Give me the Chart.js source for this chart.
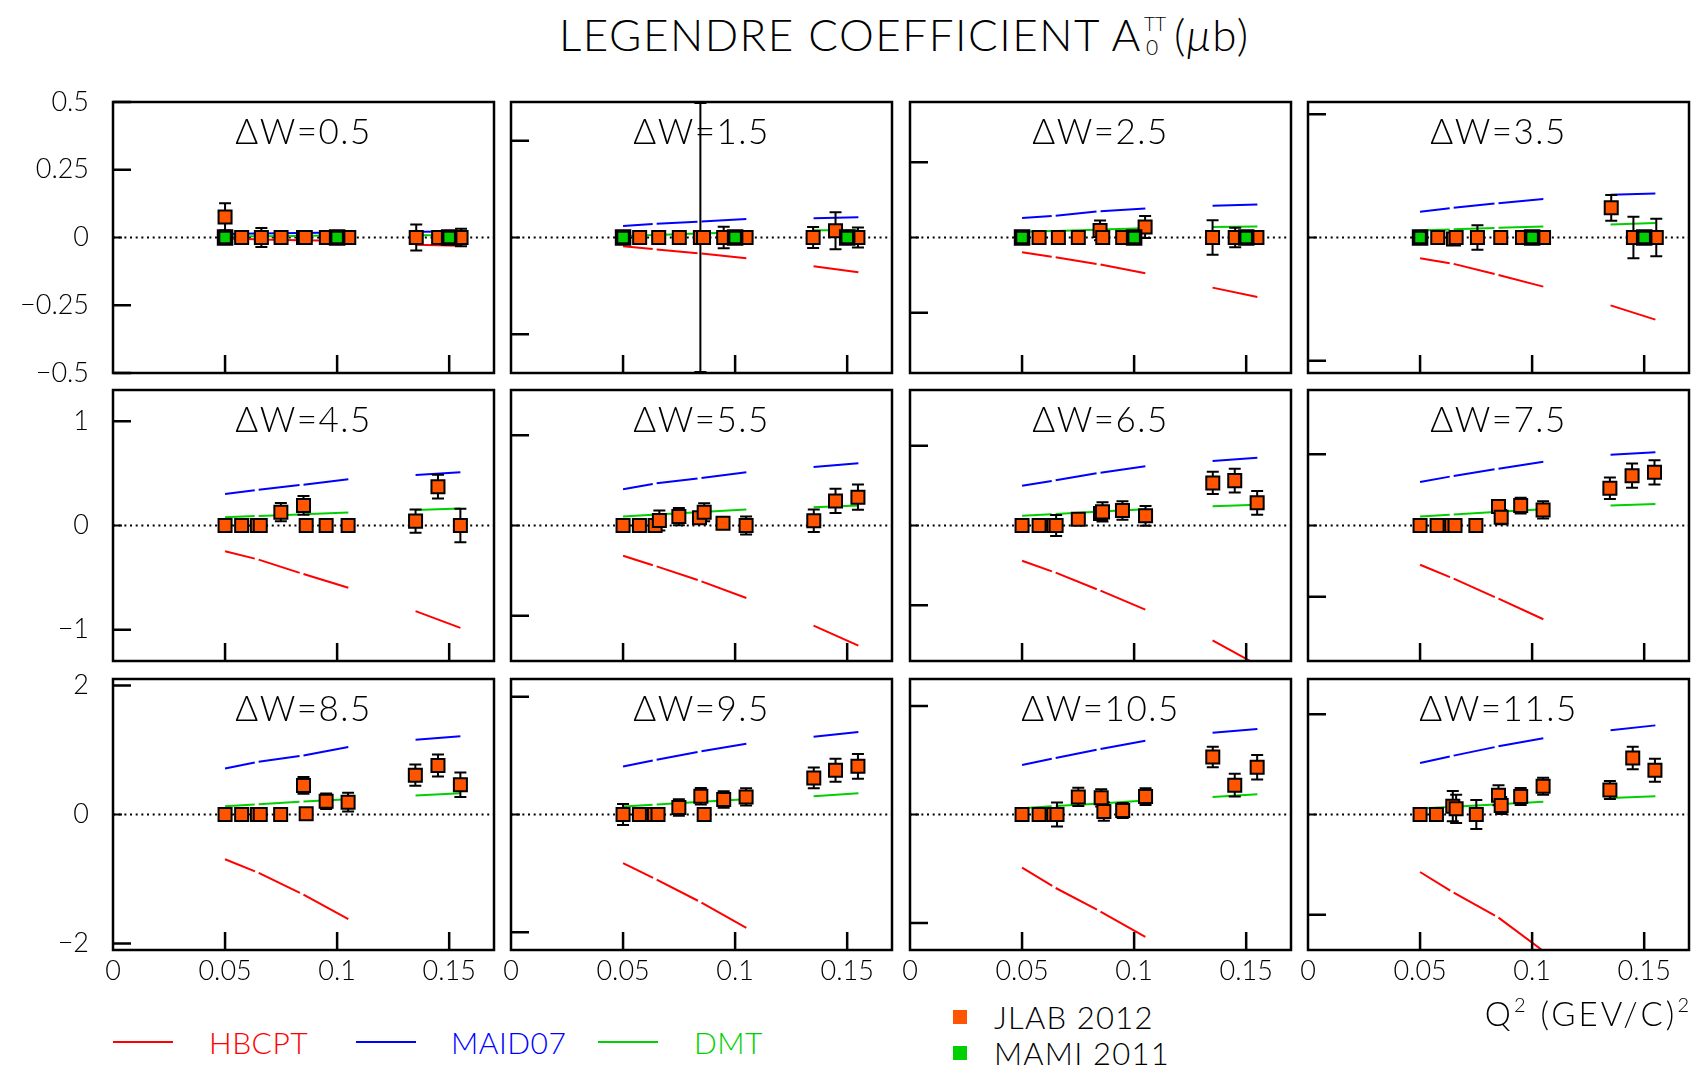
<!DOCTYPE html>
<html>
<head>
<meta charset="utf-8">
<script src="https://cdn.jsdelivr.net/npm/chart.js@4.4.1/dist/chart.umd.min.js"></script>
<style>
  html, body { margin: 0; padding: 0; background: #fff; }
  body { width: 1698px; height: 1068px; position: relative; overflow: hidden;
         font-family: Lato, "DejaVu Sans", sans-serif; font-weight: 300; color: #000; }
  canvas { position: absolute; }
  .txt { position: absolute; white-space: nowrap; line-height: 1; transform: translateY(-50%); }
  #title { position: absolute; left: 559px; top: 12px; font-size: 44px; line-height: 1; white-space: nowrap; letter-spacing: 1.5px; }
  #title .ss { display: inline-block; position: relative; width: 26px; height: 44px; vertical-align: top; }
  #title .sup { position: absolute; left: 2px; top: 2px; font-size: 19px; line-height: 1; letter-spacing: 0; }
  #title .sub { position: absolute; left: 4px; top: 24px; font-size: 21px; line-height: 1; }
  #title .unit { margin-left: 6px; }
  .panelLabel { position: absolute; white-space: nowrap; line-height: 1; font-size: 35px; letter-spacing: 1.5px;
                transform: translate(-50%, -50%); }
  .legLine { position: absolute; height: 2px; }
  .legBox { position: absolute; width: 14px; height: 14px; }
</style>
</head>
<body>
<div id="title">LEGENDRE COEFFICIENT A<span class="ss"><span class="sup">TT</span><span class="sub">0</span></span><span class="unit">(<i>μ</i>b)</span></div>
<script>
// ---------------- data ----------------
const panelLabels = ['ΔW=0.5', 'ΔW=1.5', 'ΔW=2.5', 'ΔW=3.5',
                     'ΔW=4.5', 'ΔW=5.5', 'ΔW=6.5', 'ΔW=7.5',
                     'ΔW=8.5', 'ΔW=9.5', 'ΔW=10.5', 'ΔW=11.5'];

// symmetric y range of each panel
const yLimits = [0.5, 0.7, 0.9, 1.1, 1.3, 1.5, 1.7, 1.9, 2.1, 2.3, 2.5, 2.7];
const yTickSets = [
  [-0.5, -0.25, 0, 0.25, 0.5], [-0.5, 0, 0.5], [-0.5, 0, 0.5], [-1, 0, 1],
  [-1, 0, 1], [-1, 0, 1], [-1, 0, 1], [-1, 0, 1],
  [-2, 0, 2], [-2, 0, 2], [-2, 0, 2], [-2, 0, 2]
];
const xTicks = [0, 0.05, 0.1, 0.15];
const q2Max = 0.17;

// model curves: two Q² branches
const modelQ2Low = [0.05, 0.065, 0.085, 0.105];
const modelQ2High = [0.135, 0.155];

const hbcptLow = [
  [-0.004, -0.007, -0.010, -0.013], [-0.045, -0.062, -0.083, -0.107],
  [-0.098, -0.131, -0.180, -0.237], [-0.168, -0.214, -0.304, -0.399],
  [-0.247, -0.327, -0.466, -0.597], [-0.335, -0.453, -0.618, -0.802],
  [-0.442, -0.592, -0.818, -1.055], [-0.550, -0.746, -1.026, -1.315],
  [-0.693, -0.905, -1.242, -1.620], [-0.824, -1.106, -1.495, -1.924],
  [-0.982, -1.356, -1.791, -2.258], [-1.146, -1.557, -2.054, -2.720]
];
const hbcptHigh = [
  [-0.027, -0.030], [-0.149, -0.180], [-0.333, -0.395], [-0.551, -0.667],
  [-0.822, -0.982], [-1.108, -1.329], [-1.440, -1.750], [null, null],
  [null, null], [null, null], [null, null], [null, null]
];
const maidLow = [
  [0.013, 0.015, 0.017, 0.019], [0.060, 0.071, 0.083, 0.095],
  [0.129, 0.144, 0.175, 0.193], [0.209, 0.241, 0.279, 0.312],
  [0.302, 0.343, 0.392, 0.443], [0.401, 0.467, 0.526, 0.589],
  [0.500, 0.567, 0.663, 0.743], [0.611, 0.695, 0.797, 0.895],
  [0.714, 0.817, 0.916, 1.045], [0.813, 0.931, 1.072, 1.202],
  [0.914, 1.043, 1.209, 1.362], [1.027, 1.173, 1.359, 1.518]
];
const maidHigh = [
  [0.021, 0.022], [0.100, 0.104], [0.211, 0.220], [0.347, 0.358],
  [0.485, 0.510], [0.648, 0.688], [0.809, 0.851], [0.993, 1.026],
  [1.159, 1.211], [1.320, 1.400], [1.509, 1.577], [1.677, 1.776]
];
const dmtLow = [
  [0.004, 0.005, 0.006, 0.007], [0.007, 0.013, 0.021, 0.029],
  [0.038, 0.044, 0.053, 0.062], [0.057, 0.066, 0.079, 0.090],
  [0.080, 0.092, 0.108, 0.125], [0.099, 0.122, 0.150, 0.177],
  [0.121, 0.143, 0.175, 0.204], [0.126, 0.155, 0.192, 0.228],
  [0.129, 0.160, 0.200, 0.238], [0.135, 0.170, 0.215, 0.260],
  [0.117, 0.155, 0.205, 0.258], [0.119, 0.155, 0.205, 0.252]
];
const dmtHigh = [
  [0.008, 0.008], [0.038, 0.038], [0.069, 0.073], [0.106, 0.117],
  [0.148, 0.164], [0.202, 0.221], [0.242, 0.259], [0.280, 0.303],
  [0.295, 0.331], [0.310, 0.361], [0.325, 0.374], [0.331, 0.364]
];

// JLAB 2012 points
const jlabQ2 = [
  [0.05, 0.0574, 0.0662, 0.0750, 0.0850, 0.0858, 0.0952, 0.1052, 0.1353, 0.1453, 0.1553],
  [0.05, 0.0574, 0.0659, 0.0751, 0.0845, 0.0859, 0.0949, 0.1049, 0.1348, 0.1448, 0.1548],
  [0.05, 0.0576, 0.0662, 0.0751, 0.0848, 0.0860, 0.0949, 0.1049, 0.1350, 0.1451, 0.1548],
  [0.05, 0.0579, 0.0649, 0.0661, 0.0756, 0.0860, 0.0957, 0.1051, 0.1353, 0.1452, 0.1554],
  [0.05, 0.0574, 0.0644, 0.0657, 0.0749, 0.0850, 0.0862, 0.0951, 0.1049, 0.1350, 0.1450, 0.1550],
  [0.05, 0.0573, 0.0643, 0.0662, 0.0749, 0.0841, 0.0862, 0.0946, 0.1049, 0.1351, 0.1448, 0.1548],
  [0.05, 0.0576, 0.0641, 0.0652, 0.0751, 0.0850, 0.0859, 0.0948, 0.1051, 0.1351, 0.1449, 0.1549],
  [0.05, 0.0576, 0.0641, 0.0656, 0.0749, 0.0850, 0.0862, 0.0949, 0.1049, 0.1347, 0.1446, 0.1546],
  [0.05, 0.0574, 0.0644, 0.0657, 0.0748, 0.0850, 0.0862, 0.0951, 0.1049, 0.1349, 0.1450, 0.1550],
  [0.05, 0.0573, 0.0640, 0.0656, 0.0749, 0.0847, 0.0862, 0.0949, 0.1049, 0.1351, 0.1448, 0.1548],
  [0.05, 0.0576, 0.0641, 0.0656, 0.0751, 0.0853, 0.0865, 0.0949, 0.1051, 0.1351, 0.1449, 0.1549],
  [0.05, 0.0573, 0.0646, 0.0661, 0.0751, 0.0850, 0.0862, 0.0949, 0.1049, 0.1347, 0.1449, 0.1548]
];
const jlabA0 = [
  [0.076, 0, 0, 0, 0, 0, 0, 0, 0, 0, 0],
  [0, 0, 0, 0, 0, 0, 0, 0, 0, 0.035, 0],
  [0, 0, 0, 0, 0.047, 0, 0, 0.069, 0, 0, 0],
  [0, 0, -0.012, 0, 0, 0, 0, 0, 0.241, 0, 0],
  [0, 0, 0, 0, 0.128, 0.193, 0, 0, 0, 0.042, 0.372, 0],
  [0, 0, 0, 0.055, 0.099, 0.085, 0.147, 0.026, 0, 0.052, 0.272, 0.313],
  [0, 0, 0, 0, 0.079, 0.150, 0.171, 0.188, 0.121, 0.534, 0.563, 0.284],
  [0, 0, 0, 0, 0, 0.266, 0.117, 0.280, 0.219, 0.522, 0.699, 0.746],
  [0, 0, 0, 0, 0, 0.450, 0.010, 0.207, 0.191, 0.610, 0.760, 0.460],
  [0, 0, 0, 0, 0.118, 0.310, 0, 0.254, 0.299, 0.621, 0.751, 0.818],
  [0, 0, 0, 0, 0.325, 0.307, 0.055, 0.074, 0.331, 1.061, 0.540, 0.871],
  [0, 0, 0.166, 0.113, 0, 0.384, 0.179, 0.358, 0.563, 0.490, 1.127, 0.881]
];
const jlabErr = [
  [0.05, 0, 0.035, 0, 0.012, 0, 0, 0, 0.048, 0.012, 0.032],
  [0, 0, 0, 0, 0.695, 0, 0.055, 0, 0.054, 0.096, 0.052],
  [0, 0, 0, 0, 0.066, 0, 0, 0.073, 0.115, 0.065, 0],
  [0, 0, 0, 0, 0.100, 0, 0, 0, 0.105, 0.168, 0.152],
  [0, 0, 0, 0, 0.087, 0.090, 0, 0, 0, 0.112, 0.114, 0.160],
  [0, 0, 0, 0.110, 0.095, 0.060, 0.100, 0.050, 0.100, 0.125, 0.135, 0.140],
  [0, 0, 0, 0.133, 0.040, 0.050, 0.120, 0.115, 0.125, 0.140, 0.150, 0.150],
  [0, 0, 0, 0, 0.020, 0.080, 0.100, 0.110, 0.120, 0.150, 0.170, 0.170],
  [0, 0, 0, 0, 0, 0.130, 0, 0.120, 0.145, 0.165, 0.170, 0.190],
  [0.180, 0, 0, 0, 0.140, 0.140, 0, 0.140, 0.145, 0.175, 0.195, 0.210],
  [0, 0, 0, 0.220, 0.170, 0.160, 0.170, 0.140, 0.155, 0.190, 0.210, 0.225],
  [0, 0, 0.300, 0.280, 0.290, 0.200, 0.170, 0.170, 0.170, 0.180, 0.225, 0.230]
];

// MAMI 2011 points (first four ΔW bins)
const mamiQ2 = [0.05, 0.1, 0.15];
const mamiA0 = [[0, 0, 0], [0, 0, 0], [0, 0, 0], [0, 0, 0]];

// ---------------- styling ----------------
const COL_HBCPT = '#ff0000';
const COL_MAID = '#0000ff';
const COL_DMT = '#00d000';
const COL_JLAB = '#ff5500';
const COL_MAMI = '#00d000';
const FONT = 'Lato, "DejaVu Sans", sans-serif';

const FRAME_L = [113, 511, 910, 1308];
const FRAME_T = [102, 390, 679];
const FW = 381, FH = 271, M = 46;
const TICK = 18, CAP = 6, GAP = 4;
const MARK_R = 9.2;

const fmt = v => (v < 0 ? '\u2212' + String(Math.abs(v)) : String(v));

// frame, inward ticks and dotted zero line of every panel
const panelFrame = {
  id: 'panelFrame',
  beforeDatasetsDraw(chart) {
    const { ctx, chartArea: a, scales: { y } } = chart;
    const py = y.getPixelForValue(0);
    ctx.save();
    ctx.strokeStyle = '#000';
    ctx.lineWidth = 2;
    ctx.setLineDash([2, 3.67]);
    ctx.beginPath();
    ctx.moveTo(a.left, py);
    ctx.lineTo(a.right, py);
    ctx.stroke();
    ctx.restore();
  },
  afterDraw(chart, args, opts) {
    const { ctx, chartArea: a, scales: { x, y } } = chart;
    ctx.save();
    ctx.strokeStyle = '#000';
    ctx.lineCap = 'butt';
    ctx.beginPath();
    ctx.lineWidth = 2.5;
    opts.yTicks.forEach(v => {
      if (v === 0) return;
      const py = y.getPixelForValue(v);
      ctx.moveTo(a.left, py);
      ctx.lineTo(a.left + TICK, py);
    });
    opts.xTicks.forEach(v => {
      if (v === 0) return;
      const px = x.getPixelForValue(v);
      ctx.moveTo(px, a.bottom);
      ctx.lineTo(px, a.bottom - TICK);
    });
    ctx.stroke();
    const pz = y.getPixelForValue(0);
    ctx.beginPath();
    ctx.lineWidth = 2;
    ctx.moveTo(a.left, pz);
    ctx.lineTo(a.left + 9, pz);
    ctx.stroke();
    ctx.lineWidth = 2.5;
    ctx.strokeRect(a.left, a.top, a.right - a.left, a.bottom - a.top);
    ctx.restore();
  }
};

// vertical error bars with caps, drawn just below their markers
const errorBars = {
  id: 'errorBars',
  beforeDatasetDraw(chart, args) {
    const ds = chart.data.datasets[args.index];
    if (!ds.errors) return;
    const { ctx, chartArea: a, scales: { x, y } } = chart;
    ctx.save();
    ctx.beginPath();
    ctx.rect(a.left, a.top - 1, a.right - a.left, a.bottom - a.top + 2);
    ctx.clip();
    ctx.strokeStyle = '#000';
    ctx.lineWidth = 2;
    ds.data.forEach((p, k) => {
      const e = ds.errors[k];
      if (!e) return;
      const px = x.getPixelForValue(p.x);
      const yTop = y.getPixelForValue(p.y + e);
      const yBot = y.getPixelForValue(p.y - e);
      ctx.beginPath();
      ctx.moveTo(px, yTop); ctx.lineTo(px, yBot);
      ctx.moveTo(px - CAP, yTop); ctx.lineTo(px + CAP, yTop);
      ctx.moveTo(px - CAP, yBot); ctx.lineTo(px + CAP, yBot);
      ctx.stroke();
    });
    ctx.restore();
  }
};

// model curves are drawn as joined pieces with a short break at each node
function modelDataset(xs, ys, color) {
  return {
    type: 'line',
    data: xs.map((q, k) => ({ x: q, y: ys[k] })),
    borderColor: color,
    borderWidth: 2,
    pointRadius: 0,
    pointHoverRadius: 0,
    fill: false,
    tension: 0,
    spanGaps: false,
    order: 3,
    segment: {
      borderDash: ctx => {
        if (ctx.p1DataIndex >= xs.length - 1) return undefined;
        const len = Math.hypot(ctx.p1.x - ctx.p0.x, ctx.p1.y - ctx.p0.y);
        return [Math.max(len - GAP, 1), GAP];
      }
    }
  };
}

function addText(text, left, cy, size, color, extra) {
  const d = document.createElement('div');
  d.className = 'txt';
  d.textContent = text;
  d.style.left = left + 'px';
  d.style.top = cy + 'px';
  d.style.fontSize = size + 'px';
  d.style.color = color || '#000';
  if (extra) Object.assign(d.style, extra);
  document.body.appendChild(d);
  return d;
}

function makePanel(i) {
  const r = Math.floor(i / 4), c = i % 4;
  const fl = FRAME_L[c], ft = FRAME_T[r];
  const cl = c === 0 ? 0 : fl - M;
  const ct = ft - M;
  const cw = fl + FW + M - cl;
  const ch = FH + 2 * M;
  const canvas = document.createElement('canvas');
  canvas.width = cw; canvas.height = ch;
  Object.assign(canvas.style, { left: cl + 'px', top: ct + 'px', width: cw + 'px', height: ch + 'px' });
  document.body.appendChild(canvas);

  const datasets = [];
  if (i < mamiA0.length) {
    datasets.push({
      type: 'scatter',
      data: mamiQ2.map((q, k) => ({ x: q, y: mamiA0[i][k] })),
      pointStyle: 'rect', pointRadius: MARK_R, pointHoverRadius: MARK_R,
      backgroundColor: COL_MAMI, borderColor: '#000', borderWidth: 3.5,
      order: 0
    });
  }
  datasets.push({
    type: 'scatter',
    data: jlabQ2[i].map((q, k) => ({ x: q, y: jlabA0[i][k] })),
    errors: jlabErr[i],
    pointStyle: 'rect', pointRadius: MARK_R, pointHoverRadius: MARK_R,
    backgroundColor: COL_JLAB, borderColor: '#000', borderWidth: 2,
    order: 1
  });
  datasets.push(modelDataset(modelQ2Low, dmtLow[i], COL_DMT));
  datasets.push(modelDataset(modelQ2High, dmtHigh[i], COL_DMT));
  datasets.push(modelDataset(modelQ2Low, maidLow[i], COL_MAID));
  datasets.push(modelDataset(modelQ2High, maidHigh[i], COL_MAID));
  datasets.push(modelDataset(modelQ2Low, hbcptLow[i], COL_HBCPT));
  datasets.push(modelDataset(modelQ2High, hbcptHigh[i], COL_HBCPT));

  const yTicks = yTickSets[i];
  const lim = yLimits[i];
  const tickFont = { family: FONT, size: 27, weight: '300' };

  new Chart(canvas, {
    type: 'scatter',
    data: { datasets },
    plugins: [panelFrame, errorBars],
    options: {
      responsive: false,
      devicePixelRatio: 1,
      animation: false,
      events: [],
      layout: { padding: { left: 0, top: M, right: M, bottom: 0 } },
      plugins: {
        legend: { display: false },
        tooltip: { enabled: false },
        panelFrame: { yTicks, xTicks }
      },
      scales: {
        x: {
          type: 'linear', min: 0, max: q2Max, position: 'bottom',
          grid: { display: false, drawTicks: false },
          border: { display: false },
          afterBuildTicks: s => { s.ticks = xTicks.map(v => ({ value: v })); },
          afterFit: s => { s.height = M; },
          ticks: {
            display: r === 2, autoSkip: false, maxRotation: 0, padding: 5,
            color: '#000', font: tickFont, callback: v => fmt(v)
          }
        },
        y: {
          type: 'linear', min: -lim, max: lim, position: 'left',
          grid: { display: false, drawTicks: false },
          border: { display: false },
          afterBuildTicks: s => { s.ticks = yTicks.map(v => ({ value: v })); },
          afterFit: s => { s.width = fl - cl; },
          ticks: {
            display: c === 0, autoSkip: false, padding: 24,
            color: '#000', font: tickFont, callback: v => fmt(v)
          }
        }
      }
    }
  });

  const lab = document.createElement('div');
  lab.className = 'panelLabel';
  lab.textContent = panelLabels[i];
  lab.style.left = (fl + FW / 2) + 'px';
  lab.style.top = (ft + 28) + 'px';
  document.body.appendChild(lab);
}

for (let i = 0; i < panelLabels.length; i++) makePanel(i);

// axis title
const q = addText('', 0, 1013, 33, '#000', { letterSpacing: '3px' });
q.innerHTML = 'Q<sup style="font-size:20px;vertical-align:14px;line-height:0">2</sup> (GEV/C)<sup style="font-size:20px;vertical-align:14px;line-height:0">2</sup>';
q.style.left = 'auto';
q.style.right = (1698 - 1692) + 'px';

// legend: model curves
const legendLines = [
  { name: 'HBCPT', color: COL_HBCPT, x: 113, tx: 209 },
  { name: 'MAID07', color: COL_MAID, x: 356, tx: 451 },
  { name: 'DMT', color: COL_DMT, x: 598, tx: 694 }
];
legendLines.forEach(l => {
  const d = document.createElement('div');
  d.className = 'legLine';
  Object.assign(d.style, { left: l.x + 'px', top: '1041px', width: '60px', background: l.color });
  document.body.appendChild(d);
  addText(l.name, l.tx, 1042, 30, l.color, { letterSpacing: '0.5px' });
});

// legend: data sets
const legendMarks = [
  { name: 'JLAB 2012', color: COL_JLAB, y: 1017 },
  { name: 'MAMI 2011', color: COL_MAMI, y: 1053 }
];
legendMarks.forEach(m => {
  const b = document.createElement('div');
  b.className = 'legBox';
  Object.assign(b.style, { left: '953px', top: (m.y - 7) + 'px', background: m.color });
  document.body.appendChild(b);
  addText(m.name, 994, m.y, 31, '#000', { letterSpacing: '1.2px' });
});
</script>
</body>
</html>
